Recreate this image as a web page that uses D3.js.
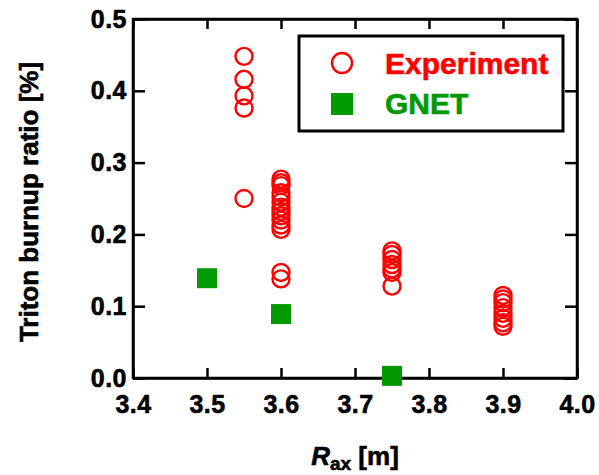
<!DOCTYPE html>
<html><head><meta charset="utf-8">
<script src="https://cdn.jsdelivr.net/npm/d3@7"></script>
<style>body{margin:0;background:#fff;} text{font-family:"Liberation Sans",Arial,sans-serif;font-weight:bold;}</style>
</head><body>
<svg id="c" width="599" height="475"></svg>
<script>
const xTicks = [3.4, 3.5, 3.6, 3.7, 3.8, 3.9, 4.0];
const yTicks = [0.0, 0.1, 0.2, 0.3, 0.4, 0.5];
const expR = [3.55,3.55,3.55,3.55,3.55,
  3.6,3.6,3.6,3.6,3.6,3.6,3.6,3.6,3.6,3.6,3.6,3.6,3.6,3.6,
  3.75,3.75,3.75,3.75,3.75,3.75,3.75,
  3.9,3.9,3.9,3.9,3.9,3.9,3.9,3.9];
const expVal = [0.448,0.416,0.393,0.376,0.25,
  0.277,0.272,0.268,0.258,0.252,0.245,0.238,0.232,0.226,0.220,0.213,0.207,0.147,0.138,
  0.177,0.172,0.165,0.158,0.152,0.147,0.128,
  0.115,0.110,0.105,0.098,0.090,0.083,0.077,0.072];
const gnetR = [3.5, 3.6, 3.75];
const gnetVal = [0.139, 0.089, 0.003];
const legendLabels = ["Experiment", "GNET"];

const svg = d3.select("#c");
const W = 599, H = 475;
const m = {left:133, right:22, top:19, bottom:97};
const x = d3.scaleLinear().domain([3.4, 4.0]).range([m.left, W - m.right]);
const y = d3.scaleLinear().domain([0, 0.5]).range([H - m.bottom, m.top]);
const red = "#ff0000", green = "#009900";

const axStyle = g => {
  g.selectAll("path").attr("stroke","#000").attr("stroke-width",2.5);
  g.selectAll("line").attr("stroke","#000").attr("stroke-width",2.5);
  g.selectAll("text").attr("fill","#000").attr("stroke","#000").attr("stroke-width",0.6)
    .style("font-size","25px").style("letter-spacing","0.5px");
};
svg.append("g").attr("transform",`translate(0,${y(0)})`)
  .call(d3.axisBottom(x).tickValues(xTicks).tickFormat(d3.format(".1f")).tickSizeInner(-10).tickSizeOuter(0).tickPadding(17))
  .call(axStyle);
svg.append("g").attr("transform",`translate(0,${y(0.5)})`)
  .call(d3.axisTop(x).tickValues(xTicks).tickFormat("").tickSizeInner(-10).tickSizeOuter(0))
  .call(axStyle);
svg.append("g").attr("transform",`translate(${x(3.4)},0)`)
  .call(d3.axisLeft(y).tickValues(yTicks).tickFormat(d3.format(".1f")).tickSizeInner(-12).tickSizeOuter(0).tickPadding(6))
  .call(axStyle);
svg.append("g").attr("transform",`translate(${x(4.0)},0)`)
  .call(d3.axisRight(y).tickValues(yTicks).tickFormat("").tickSizeInner(-12).tickSizeOuter(0))
  .call(axStyle);

svg.append("rect").attr("x",x(3.4)).attr("y",y(0.5)).attr("width",x(4.0)-x(3.4)).attr("height",y(0)-y(0.5))
  .attr("fill","none").attr("stroke","#000").attr("stroke-width",2.5);

svg.append("g").selectAll("circle").data(expVal).join("circle")
  .attr("cx",(d,i)=>x(expR[i])).attr("cy",d=>y(d)).attr("r",8.5)
  .attr("fill","none").attr("stroke",red).attr("stroke-width",2.4);
const s = 20;
svg.append("g").selectAll("rect").data(gnetVal).join("rect")
  .attr("x",(d,i)=>x(gnetR[i])-s/2).attr("y",d=>y(d)-s/2).attr("width",s).attr("height",s)
  .attr("fill",green);

const lg = svg.append("g");
lg.append("rect").attr("x",299).attr("y",36).attr("width",264).attr("height",95)
  .attr("fill","#fff").attr("stroke","#000").attr("stroke-width",3);
lg.append("circle").attr("cx",342).attr("cy",63).attr("r",10).attr("fill","none").attr("stroke",red).attr("stroke-width",2.4);
lg.append("rect").attr("x",342-11).attr("y",104-11).attr("width",22).attr("height",22).attr("fill",green);
lg.append("text").attr("x",385).attr("y",74).attr("fill",red).attr("stroke",red).attr("stroke-width",0.6)
  .style("font-size","30px").text(legendLabels[0]);
lg.append("text").attr("x",385).attr("y",114).attr("fill",green).attr("stroke",green).attr("stroke-width",0.6)
  .style("font-size","30px").text(legendLabels[1]);

const xt = svg.append("text").attr("x",355).attr("y",465).attr("text-anchor","middle").attr("fill","#000")
  .attr("stroke","#000").attr("stroke-width",0.6).style("font-size","26px");
xt.append("tspan").style("font-style","italic").text("R");
xt.append("tspan").attr("dy",5).style("font-size","19px").text("ax");
xt.append("tspan").attr("dy",-5).text(" [m]");
svg.append("text").attr("transform","translate(38,202) rotate(-90)").attr("text-anchor","middle")
  .attr("fill","#000").attr("stroke","#000").attr("stroke-width",0.6).style("font-size","26px").text("Triton burnup ratio [%]");
</script>
</body></html>
